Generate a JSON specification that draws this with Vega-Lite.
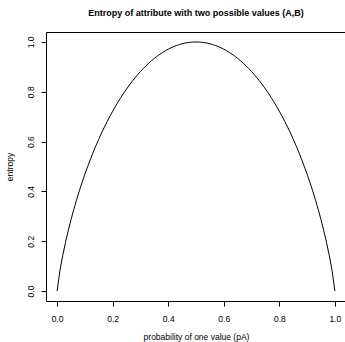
{
  "$schema": "https://vega.github.io/schema/vega-lite/v6.json",
  "autosize": "none",
  "width": 300,
  "height": 269,
  "padding": {"left": 46, "top": 32, "right": 0, "bottom": 41},
  "background": "white",
  "config": {
    "font": "Liberation Sans",
    "view": {"stroke": "black", "strokeWidth": 1},
    "axis": {"grid": false, "domain": false, "tickColor": "black", "tickSize": 5, "labelColor": "black", "titleColor": "black", "labelFont": "Liberation Sans", "titleFont": "Liberation Sans", "labelFontSize": 8.5, "titleFontSize": 8.5, "titleFontWeight": "normal"}
  },
  "title": {"text": "Entropy of attribute with two possible values (A,B)", "fontSize": 9, "fontWeight": "bold", "font": "Liberation Sans", "anchor": "middle", "offset": 14, "color": "black"},
  "data": {"values": [
    {"p": 0.00, "h": 0.0},
    {"p": 0.01, "h": 0.0808},
    {"p": 0.02, "h": 0.1414},
    {"p": 0.03, "h": 0.1944},
    {"p": 0.04, "h": 0.2423},
    {"p": 0.05, "h": 0.2864},
    {"p": 0.06, "h": 0.3274},
    {"p": 0.07, "h": 0.3659},
    {"p": 0.08, "h": 0.4022},
    {"p": 0.09, "h": 0.4365},
    {"p": 0.10, "h": 0.4690},
    {"p": 0.11, "h": 0.4999},
    {"p": 0.12, "h": 0.5294},
    {"p": 0.13, "h": 0.5574},
    {"p": 0.14, "h": 0.5842},
    {"p": 0.15, "h": 0.6098},
    {"p": 0.16, "h": 0.6343},
    {"p": 0.17, "h": 0.6577},
    {"p": 0.18, "h": 0.6801},
    {"p": 0.19, "h": 0.7015},
    {"p": 0.20, "h": 0.7219},
    {"p": 0.21, "h": 0.7415},
    {"p": 0.22, "h": 0.7602},
    {"p": 0.23, "h": 0.7780},
    {"p": 0.24, "h": 0.7950},
    {"p": 0.25, "h": 0.8113},
    {"p": 0.26, "h": 0.8267},
    {"p": 0.27, "h": 0.8415},
    {"p": 0.28, "h": 0.8555},
    {"p": 0.29, "h": 0.8687},
    {"p": 0.30, "h": 0.8813},
    {"p": 0.31, "h": 0.8932},
    {"p": 0.32, "h": 0.9044},
    {"p": 0.33, "h": 0.9149},
    {"p": 0.34, "h": 0.9248},
    {"p": 0.35, "h": 0.9341},
    {"p": 0.36, "h": 0.9427},
    {"p": 0.37, "h": 0.9507},
    {"p": 0.38, "h": 0.9580},
    {"p": 0.39, "h": 0.9648},
    {"p": 0.40, "h": 0.9710},
    {"p": 0.41, "h": 0.9765},
    {"p": 0.42, "h": 0.9815},
    {"p": 0.43, "h": 0.9858},
    {"p": 0.44, "h": 0.9896},
    {"p": 0.45, "h": 0.9928},
    {"p": 0.46, "h": 0.9954},
    {"p": 0.47, "h": 0.9974},
    {"p": 0.48, "h": 0.9988},
    {"p": 0.49, "h": 0.9997},
    {"p": 0.50, "h": 1.0},
    {"p": 0.51, "h": 0.9997},
    {"p": 0.52, "h": 0.9988},
    {"p": 0.53, "h": 0.9974},
    {"p": 0.54, "h": 0.9954},
    {"p": 0.55, "h": 0.9928},
    {"p": 0.56, "h": 0.9896},
    {"p": 0.57, "h": 0.9858},
    {"p": 0.58, "h": 0.9815},
    {"p": 0.59, "h": 0.9765},
    {"p": 0.60, "h": 0.9710},
    {"p": 0.61, "h": 0.9648},
    {"p": 0.62, "h": 0.9580},
    {"p": 0.63, "h": 0.9507},
    {"p": 0.64, "h": 0.9427},
    {"p": 0.65, "h": 0.9341},
    {"p": 0.66, "h": 0.9248},
    {"p": 0.67, "h": 0.9149},
    {"p": 0.68, "h": 0.9044},
    {"p": 0.69, "h": 0.8932},
    {"p": 0.70, "h": 0.8813},
    {"p": 0.71, "h": 0.8687},
    {"p": 0.72, "h": 0.8555},
    {"p": 0.73, "h": 0.8415},
    {"p": 0.74, "h": 0.8267},
    {"p": 0.75, "h": 0.8113},
    {"p": 0.76, "h": 0.7950},
    {"p": 0.77, "h": 0.7780},
    {"p": 0.78, "h": 0.7602},
    {"p": 0.79, "h": 0.7415},
    {"p": 0.80, "h": 0.7219},
    {"p": 0.81, "h": 0.7015},
    {"p": 0.82, "h": 0.6801},
    {"p": 0.83, "h": 0.6577},
    {"p": 0.84, "h": 0.6343},
    {"p": 0.85, "h": 0.6098},
    {"p": 0.86, "h": 0.5842},
    {"p": 0.87, "h": 0.5574},
    {"p": 0.88, "h": 0.5294},
    {"p": 0.89, "h": 0.4999},
    {"p": 0.90, "h": 0.4690},
    {"p": 0.91, "h": 0.4365},
    {"p": 0.92, "h": 0.4022},
    {"p": 0.93, "h": 0.3659},
    {"p": 0.94, "h": 0.3274},
    {"p": 0.95, "h": 0.2864},
    {"p": 0.96, "h": 0.2423},
    {"p": 0.97, "h": 0.1944},
    {"p": 0.98, "h": 0.1414},
    {"p": 0.99, "h": 0.0808},
    {"p": 1.00, "h": 0.0}
  ]},
  "mark": {"type": "line", "color": "black", "strokeWidth": 1, "clip": true},
  "encoding": {
    "x": {"field": "p", "type": "quantitative", "scale": {"domain": [-0.04, 1.04], "nice": false, "zero": false},
      "axis": {"title": "probability of one value (pA)", "values": [0, 0.2, 0.4, 0.6, 0.8, 1.0], "format": ".1f", "labelPadding": 8, "titlePadding": 10, "labelFlush": false}},
    "y": {"field": "h", "type": "quantitative", "scale": {"domain": [-0.04, 1.04], "nice": false, "zero": false},
      "axis": {"title": "entropy", "values": [0, 0.2, 0.4, 0.6, 0.8, 1.0], "format": ".1f", "labelAngle": -90, "labelAlign": "center", "labelBaseline": "bottom", "labelPadding": 6, "titlePadding": 12, "labelFlush": false}}
  }
}
